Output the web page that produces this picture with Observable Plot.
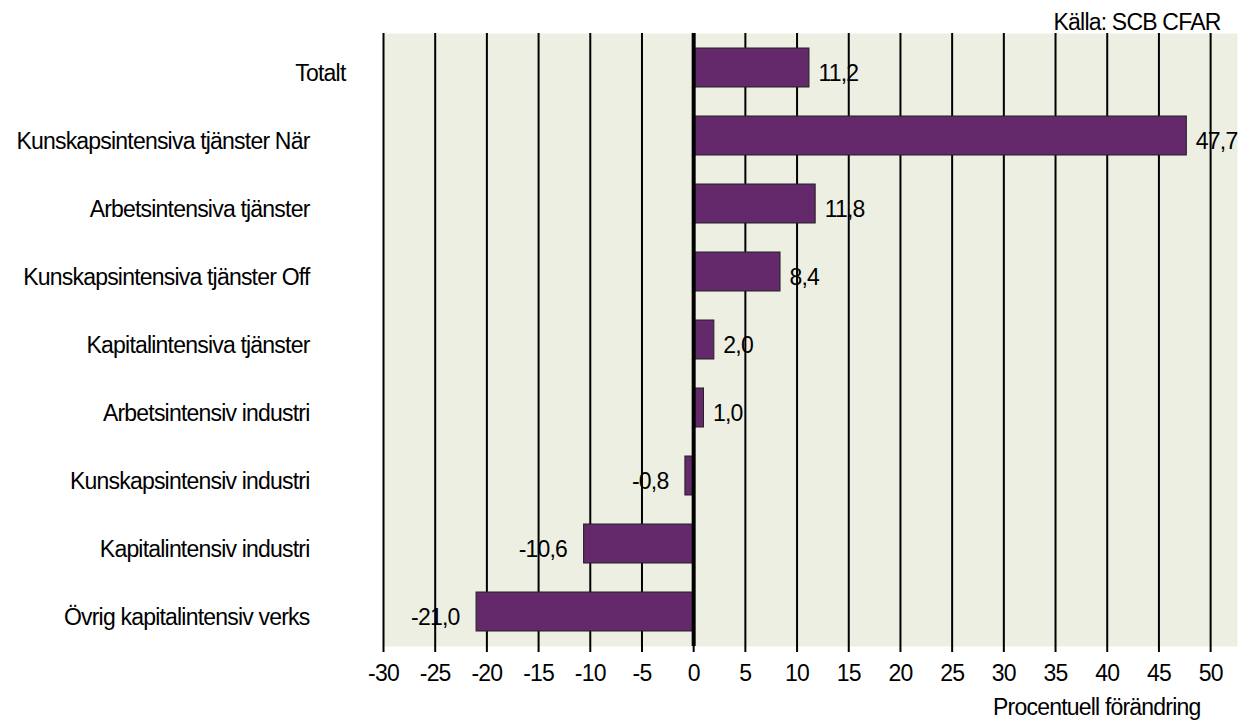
<!DOCTYPE html>
<html>
<head>
<meta charset="utf-8">
<script src="https://cdn.jsdelivr.net/npm/d3@7"></script>
<script src="https://cdn.jsdelivr.net/npm/@observablehq/plot@0.6"></script>
<style>
  html, body { margin: 0; padding: 0; background: #ffffff; }
</style>
</head>
<body>
<div id="chart"></div>
<script>
const categories = [
  "Totalt",
  "Kunskapsintensiva tjänster När",
  "Arbetsintensiva tjänster",
  "Kunskapsintensiva tjänster Off",
  "Kapitalintensiva tjänster",
  "Arbetsintensiv industri",
  "Kunskapsintensiv industri",
  "Kapitalintensiv industri",
  "Övrig kapitalintensiv verks"
];
const values = [11.2, 47.7, 11.8, 8.4, 2.0, 1.0, -0.8, -10.6, -21.0];
const xTicks = [-30, -25, -20, -15, -10, -5, 0, 5, 10, 15, 20, 25, 30, 35, 40, 45, 50];
const sourceText = "Källa: SCB CFAR";
const axisTitle = "Procentuell förändring";

const data = categories.map((c, i) => ({cat: c, v: values[i]}));
const fmt = d => d.v.toFixed(1).replace(".", ",");
const FONT = 23;

const chart = Plot.plot({
  width: 1246,
  height: 720,
  marginTop: 33,
  marginBottom: 74,
  marginLeft: 383,
  marginRight: 9,
  style: {
    fontFamily: "'Liberation Sans', Arial, sans-serif",
    fontSize: FONT + "px",
    letterSpacing: "-0.8px",
    color: "#000",
    background: "#ffffff"
  },
  x: {domain: [-30, 52.6]},
  y: {domain: categories, paddingInner: 0.423, paddingOuter: 0.19, axis: null},
  marks: [
    Plot.frame({fill: "#EEEFE3", stroke: null}),
    Plot.gridX(xTicks.filter(t => t !== 0), {stroke: "#000", strokeOpacity: 1, strokeWidth: 2}),
    Plot.axisX({ticks: xTicks, tickFormat: d => String(d), tickSize: 6, tickPadding: 12,
      fontSize: FONT, label: null, stroke: "#000", strokeWidth: 2}),
    Plot.barX(data, {x: "v", y: "cat", fill: "#63296B", stroke: "#222", strokeWidth: 1}),
    Plot.ruleX([0], {stroke: "#000", strokeWidth: 4}),
    Plot.text(data.filter(d => d.cat !== "Totalt"), {y: "cat", text: "cat", frameAnchor: "left",
      textAnchor: "end", dx: -74, dy: 6, fontSize: FONT, fill: "#000"}),
    Plot.text(data.filter(d => d.cat === "Totalt"), {y: "cat", text: "cat", frameAnchor: "left",
      textAnchor: "end", dx: -38, dy: 6, fontSize: FONT, fill: "#000"}),
    Plot.text(data.filter(d => d.v >= 0), {x: "v", y: "cat", text: fmt, textAnchor: "start",
      dx: 9, dy: 6, fontSize: FONT, fill: "#000"}),
    Plot.text(data.filter(d => d.v < 0), {x: "v", y: "cat", text: fmt, textAnchor: "end",
      dx: -17, dy: 6, fontSize: FONT, fill: "#000"}),
    Plot.text([sourceText], {text: d => d, frameAnchor: "top-right", textAnchor: "end",
      dx: -17, dy: -20, fontSize: FONT, fill: "#000"}),
    Plot.text([axisTitle], {text: d => d, frameAnchor: "bottom-right", textAnchor: "end",
      dx: -37, dy: 68, fontSize: FONT, fill: "#000"})
  ]
});
document.getElementById("chart").appendChild(chart);
</script>
</body>
</html>
